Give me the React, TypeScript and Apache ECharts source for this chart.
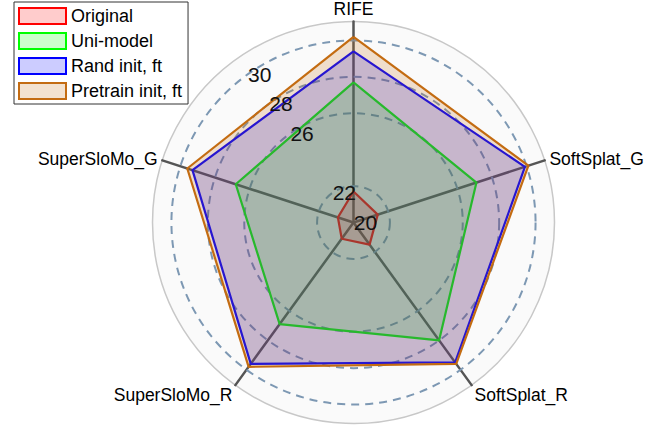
import React, { useEffect, useRef } from 'react';
import * as echarts from 'echarts';

// Indicators in ECharts radar order (counter-clockwise from top)
const indicators = ['RIFE', 'SuperSloMo_G', 'SuperSloMo_R', 'SoftSplat_R', 'SoftSplat_G'];
const seriesNames = ['Original', 'Uni-model', 'Rand init, ft', 'Pretrain init, ft'];
const original = [21.7, 20.9, 21.1, 21.5, 21.4];
const uniModel = [27.7, 26.8, 26.9, 28.0, 27.1];
const randInit = [29.4, 29.3, 29.6, 29.5, 29.9];
const pretrainInit = [30.2, 29.6, 29.8, 29.6, 30.1];
const radialTicks = [20, 22, 26, 28, 30];

const lineColors = ['#ff0000', '#00ff00', '#0000ff', '#c46c12'];
const fillColors = [
  'rgba(255,0,0,0.2)',
  'rgba(0,255,0,0.2)',
  'rgba(0,0,255,0.2)',
  'rgba(196,108,18,0.2)',
];

const FONT = '"Liberation Sans", Arial, Helvetica, sans-serif';
const CENTER = [353.5, 222.5];
const R = 201;
const MIN = 20;
const MAX = 31.04;

export default function App() {
  const ref = useRef<HTMLDivElement>(null);
  useEffect(() => {
    if (!ref.current) return;
    const chart = echarts.init(ref.current, undefined, { renderer: 'svg' });
    const values = [original, uniModel, randInit, pretrainInit];
    const hiddenAngle = (idx: number) => ({
      type: 'value',
      polarIndex: idx,
      min: 0,
      max: 360,
      startAngle: 125.5,
      axisLine: { show: false },
      axisTick: { show: false },
      axisLabel: { show: false },
      splitLine: { show: false },
    });
    chart.setOption({
      animation: false,
      textStyle: { fontFamily: FONT },
      legend: {
        orient: 'vertical',
        left: 14,
        top: 2,
        padding: [5, 6, 4, 4],
        itemWidth: 47,
        itemHeight: 16,
        itemGap: 7,
        backgroundColor: '#ffffff',
        borderColor: '#333333',
        borderWidth: 1,
        borderRadius: 0,
        selectedMode: false,
        textStyle: { fontSize: 18, color: '#000', lineHeight: 17, fontFamily: FONT },
        data: seriesNames.map((n, i) => ({
          name: n,
          icon: 'rect',
          itemStyle: { color: fillColors[i], borderColor: lineColors[i], borderWidth: 2 },
        })),
      },
      radar: {
        center: CENTER,
        radius: R,
        startAngle: 90,
        shape: 'circle',
        splitNumber: 1,
        z: 0,
        indicator: indicators.map((name) => ({ name, min: MIN, max: MAX })),
        axisName: {
          color: '#000',
          fontSize: 17.5,
          lineHeight: 15,
          fontFamily: FONT,
          formatter: (name: string) => (name.endsWith('_R') ? `{low|${name}}` : name),
          rich: {
            low: {
              fontSize: 17.5,
              lineHeight: 15,
              color: '#000',
              fontFamily: FONT,
              padding: [12, 0, 0, 0],
            },
          },
        },
        nameGap: 5,
        axisLine: { lineStyle: { color: '#555555', width: 2.5 } },
        splitLine: { lineStyle: { color: '#c8c8c8', width: 1.5 } },
        splitArea: { show: true, areaStyle: { color: ['#fafafa'] } },
        axisTick: { show: false },
        axisLabel: { show: false },
      },
      polar: [
        { center: CENTER, radius: R },
        { center: CENTER, radius: R },
      ],
      angleAxis: [hiddenAngle(0), hiddenAngle(1)],
      radiusAxis: [
        {
          type: 'value',
          polarIndex: 0,
          min: MIN,
          max: MAX,
          z: 1,
          axisLine: { show: false },
          axisTick: { show: false, customValues: radialTicks },
          axisLabel: { show: false, customValues: radialTicks },
          splitLine: {
            show: true,
            lineStyle: { color: '#7d98b3', width: 2, type: [8, 6] },
          },
        },
        {
          type: 'value',
          polarIndex: 1,
          min: MIN,
          max: MAX,
          z: 5,
          axisLine: { show: false },
          axisTick: { show: false, customValues: radialTicks },
          axisLabel: {
            show: true,
            customValues: radialTicks,
            fontSize: 21,
            color: '#111',
            fontFamily: FONT,
            margin: 0,
            align: 'center',
            verticalAlign: 'middle',
            padding: [4, 0, 0, 24],
          },
          splitLine: { show: false },
        },
      ],
      series: seriesNames.map((n, i) => ({
        type: 'radar',
        name: n,
        z: 2,
        symbol: 'none',
        lineStyle: { color: lineColors[i], width: 2.2 },
        itemStyle: { color: lineColors[i] },
        areaStyle: { color: fillColors[i], opacity: 1 },
        data: [{ name: n, value: values[i] }],
      })),
    });
    return () => chart.dispose();
  }, []);
  return (
    <div
      ref={ref}
      style={{ position: 'fixed', left: 0, top: 0, width: 667, height: 428, background: '#fff' }}
    />
  );
}
